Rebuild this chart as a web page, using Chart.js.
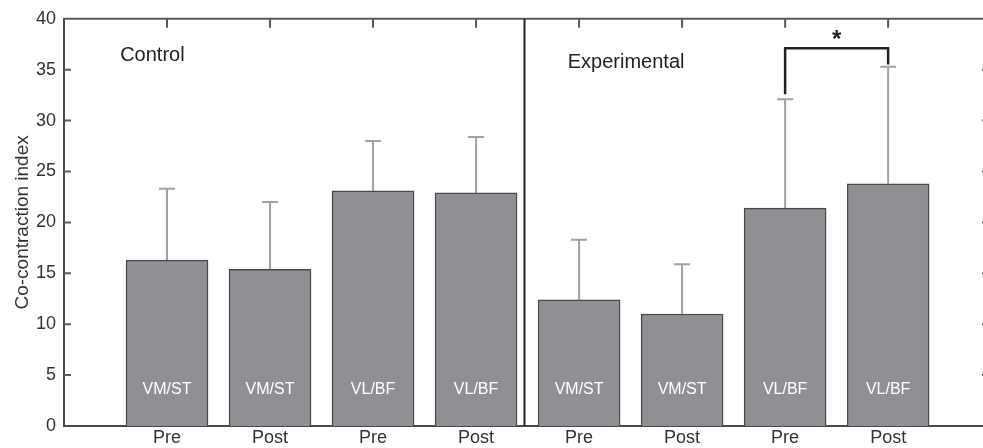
<!DOCTYPE html>
<html>
<head>
<meta charset="utf-8">
<script src="https://cdn.jsdelivr.net/npm/chart.js@4"></script>
<style>
    html, body { margin: 0; padding: 0; background: #fff; overflow: hidden; }
    #wrap { width: 983px; height: 448px; overflow: hidden; }
</style>
</head>
<body>
<div id="wrap"><canvas id="chart" width="1000" height="448"></canvas></div>
<script>
'use strict';
// values
let groups = ['Control', 'Experimental'];
let tickLabels = ['Pre', 'Post', 'Pre', 'Post', 'Pre', 'Post', 'Pre', 'Post'];
let muscleLabels = ['VM/ST', 'VM/ST', 'VL/BF', 'VL/BF', 'VM/ST', 'VM/ST', 'VL/BF', 'VL/BF'];
let means = [16.3, 15.4, 23.1, 22.9, 12.4, 11.0, 21.4, 23.8];
let upperSD = [23.3, 22.0, 28.0, 28.4, 18.3, 15.9, 32.1, 35.3];
let sigPair = [6, 7];
let sigLevels = [32.6, 37.1, 35.5]; // left foot, bracket, right foot

Chart.defaults.font.family = "'Liberation Sans', Arial, Helvetica, sans-serif";
Chart.defaults.color = '#333333';

// frame, ticks, error bars, text labels
const decor = {
    id: 'decor',
    beforeDatasetsDraw(chart) {
        const {ctx, scales: {x, y}} = chart;
        ctx.save();
        ctx.strokeStyle = '#a2a2a4';
        ctx.lineWidth = 2;
        means.forEach((m, i) => {
            const px = x.getPixelForValue(i);
            const y0 = y.getPixelForValue(m);
            const y1 = y.getPixelForValue(upperSD[i]);
            ctx.beginPath();
            ctx.moveTo(px, y0);
            ctx.lineTo(px, y1);
            ctx.moveTo(px - 8, y1);
            ctx.lineTo(px + 8, y1);
            ctx.stroke();
        });
        ctx.restore();
    },
    afterDatasetsDraw(chart) {
        const {ctx, chartArea: a, scales: {x, y}} = chart;
        ctx.save();
        ctx.strokeStyle = '#5a5a5a';
        ctx.lineWidth = 2;
        ctx.beginPath();
        ctx.moveTo(a.left - 1, a.top);
        ctx.lineTo(a.right, a.top);
        ctx.lineTo(a.right, a.bottom);
        for (let i = 0; i < tickLabels.length; i++) {
            const px = x.getPixelForValue(i);
            ctx.moveTo(px, a.top);
            ctx.lineTo(px, a.top + 9);
        }
        for (let v = 5; v < 40; v += 5) {
            const py = y.getPixelForValue(v);
            ctx.moveTo(a.left, py);
            ctx.lineTo(a.left + 7, py);
            ctx.moveTo(a.right, py);
            ctx.lineTo(a.right - 4, py);
        }
        ctx.stroke();

        // group divider
        const dx = x.getPixelForValue(3.47);
        ctx.strokeStyle = '#222222';
        ctx.beginPath();
        ctx.moveTo(dx, a.top);
        ctx.lineTo(dx, a.bottom);
        ctx.stroke();

        // significance bracket
        const bx0 = x.getPixelForValue(sigPair[0]);
        const bx1 = x.getPixelForValue(sigPair[1]);
        ctx.lineWidth = 2.5;
        ctx.beginPath();
        ctx.moveTo(bx0, y.getPixelForValue(sigLevels[0]));
        ctx.lineTo(bx0, y.getPixelForValue(sigLevels[1]));
        ctx.lineTo(bx1, y.getPixelForValue(sigLevels[1]));
        ctx.lineTo(bx1, y.getPixelForValue(sigLevels[2]));
        ctx.stroke();
        ctx.fillStyle = '#222222';
        ctx.font = "bold 24px 'Liberation Sans', Arial, sans-serif";
        ctx.textAlign = 'center';
        ctx.textBaseline = 'alphabetic';
        ctx.fillText('*', (bx0 + bx1) / 2, y.getPixelForValue(sigLevels[1]) - 1);

        // group names
        ctx.font = "20px 'Liberation Sans', Arial, sans-serif";
        ctx.textAlign = 'left';
        ctx.textBaseline = 'middle';
        ctx.fillText(groups[0], x.getPixelForValue(-0.455), y.getPixelForValue(36.4));
        ctx.fillText(groups[1], x.getPixelForValue(3.89), y.getPixelForValue(35.7));

        // muscle labels inside bars
        ctx.fillStyle = '#ffffff';
        ctx.font = "16px 'Liberation Sans', Arial, sans-serif";
        ctx.textAlign = 'center';
        muscleLabels.forEach((t, i) => {
            ctx.fillText(t, x.getPixelForValue(i), y.getPixelForValue(3.6));
        });
        ctx.restore();
    }
};

let ctxChart = document.getElementById('chart').getContext('2d');
let chart = new Chart(ctxChart, {
    type: 'bar',
    data: {
        datasets: [{
            data: means.map((v, i) => ({x: i, y: v})),
            backgroundColor: '#8f9094',
            borderColor: '#4a4a4a',
            borderWidth: {top: 1.5, left: 1.5, right: 1.5, bottom: 0},
            borderSkipped: 'bottom',
            barThickness: 82,
        }]
    },
    options: {
        responsive: false,
        animation: false,
        layout: {
            padding: {top: 18, right: 14, left: 0, bottom: 0}
        },
        plugins: {
            legend: {display: false},
            tooltip: {enabled: false},
        },
        scales: {
            x: {
                type: 'linear',
                offset: false,
                min: -1,
                max: 7.95,
                grid: {display: false, drawTicks: false, offset: false},
                border: {color: '#4a4a4a', width: 2},
                afterBuildTicks: scale => {
                    scale.ticks = tickLabels.map((_, i) => ({value: i}));
                },
                ticks: {
                    callback: value => tickLabels[value] ?? '',
                    font: {size: 18},
                    padding: 1,
                    maxRotation: 0,
                    autoSkip: false,
                },
                afterFit: scale => { scale.height = 22; },
            },
            y: {
                min: 0,
                max: 40,
                ticks: {stepSize: 5, font: {size: 18}, padding: 8},
                grid: {display: false, drawTicks: false},
                border: {color: '#4a4a4a', width: 2},
                title: {
                    display: true,
                    text: 'Co-contraction index',
                    font: {size: 19},
                    padding: {top: 11, bottom: 0},
                },
                afterFit: scale => { scale.width = 64; },
            }
        }
    },
    plugins: [decor]
});
</script>
</body>
</html>
